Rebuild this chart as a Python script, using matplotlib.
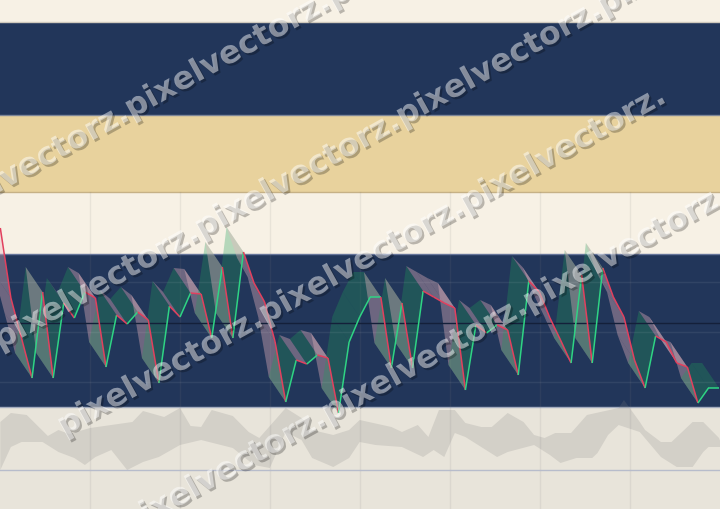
import numpy as np
import matplotlib.pyplot as plt
from matplotlib.collections import LineCollection, PolyCollection
import matplotlib.patheffects as pe

# price series (one value per session)
prices = [135.8, 121.8, 113.8, 105.8, 123.0, 105.8, 120.8, 117.8, 123.0, 121.8,
          108.0, 118.4, 116.6, 119.0, 117.4, 104.8, 120.2, 118.0, 122.8, 122.6,
          113.8, 128.0, 113.8, 131.0, 124.8, 121.0, 113.0, 101.0, 109.4, 108.6,
          110.4, 109.8, 98.8, 113.0, 118.0, 122.0, 122.0, 107.8, 120.8, 107.8,
          123.2, 122.0, 120.8, 119.8, 103.4, 116.4, 114.8, 116.4, 115.4, 106.4,
          125.2, 123.0, 117.8, 113.4, 108.8, 126.4, 108.8, 127.8, 122.0, 118.0,
          109.4, 103.8, 114.2, 113.0, 108.8, 108.0, 100.8, 103.8, 103.8]
ref_level = 116.8

# lower indicator band (upper and lower edges)
band_top_x = [0, 1, 2.5, 4.5, 5.5, 6.5, 8.5, 10.5, 12.5, 13.5,
              15.5, 17, 18, 19, 20, 22, 23.5, 24.5, 27, 28.5,
              29.5, 31.5, 33, 34, 37, 38, 39.5, 40.5, 41.5, 43,
              44, 45.5, 46.5, 48, 49.5, 50.5, 51.5, 52.5, 54, 55.5,
              58.5, 59, 60.5, 61, 62.5, 63.5, 65.5, 66.5, 68, 68.1]
band_top = [48, 57, 55, 34, 40, 36, 42, 45, 48, 59,
            53, 62, 44, 43, 60, 54, 38, 32, 62, 52,
            40, 35, 40, 50, 43, 38, 45, 33, 60, 60,
            47, 43, 43, 57, 48, 35, 32, 37, 37, 55,
            62, 70, 48, 40, 28, 28, 48, 48, 32, 29]
band_bot_x = [0, 1, 2, 4, 5.5, 7, 8, 9, 10.5, 12,
              13.5, 15, 17, 19, 22, 24, 25.5, 27, 28.5, 29.5,
              31.5, 33, 34, 35.5, 38, 40, 41, 42, 43, 44,
              47, 48, 50.5, 52, 53, 54.5, 56, 56.5, 57.5, 58.5,
              60.5, 62.5, 64, 65.5, 66.5, 67, 68.1]
band_bot = [0, 23, 28, 28, 18, 12, 5, 13, 20, 0,
            8, 13, 25, 30, 22, 5, 2, 38, 30, 12,
            3, 12, 28, 25, 23, 13, 20, 13, 37, 33,
            13, 18, 25, 15, 7, 12, 12, 17, 35, 45,
            38, 13, 3, 3, 18, 23, 23]

watermark = 'pixelvectorz.'

cream = '#f7f1e5'
navy = '#22365a'
tan = '#e8d29d'
beige = '#e8e4da'

fig = plt.figure(figsize=(7.2, 5.09), dpi=100)

# background stripes
bg = fig.add_axes([0, 0, 1, 1])
bg.set_xlim(0, 720)
bg.set_ylim(509, 0)
bg.axis('off')
for top, bottom, col in [(0, 22, cream), (22, 115, navy), (115, 192, tan),
                         (192, 254, cream), (254, 407, navy), (407, 509, beige)]:
    bg.axhspan(top, bottom, color=col, lw=0)
for y, col in [(22, '#cfc9bd'), (115, '#7d8698'), (192, '#c6b186'),
               (254, '#66759a'), (407, '#a3acbf')]:
    bg.axhline(y, color=col, lw=1)
for x in range(90, 720, 90):
    bg.plot([x, x], [192, 509], color='#808080', alpha=0.12, lw=1)

# price panel
ax = fig.add_axes([0, 0, 1, 1])
ax.patch.set_alpha(0)
ax.axis('off')
ax.set_xlim(-0.03, 68.09)
ax.set_ylim(79.6, 181.4)
for lvl in [105, 115, 125]:
    ax.plot([-1, 70], [lvl, lvl], color='white', alpha=0.07, lw=1)
ax.plot([-1, 70], [ref_level, ref_level], color='#14203a', lw=1)

p = np.array(prices)
x = np.arange(len(p))
up = p[1:] >= p[:-1]
dx, dy = -1.6, 5.0
faces = [[(x[i], p[i]), (x[i + 1], p[i + 1]), (x[i + 1] + dx, p[i + 1] + dy), (x[i] + dx, p[i] + dy)]
         for i in range(len(p) - 1)]
face_cols = [(0.12, 0.62, 0.35, 0.30) if u else (0.91, 0.71, 0.75, 0.38) for u in up]
ax.add_collection(PolyCollection(faces, facecolors=face_cols, edgecolors='none'))
segs = [[(x[i], p[i]), (x[i + 1], p[i + 1])] for i in range(len(p) - 1)]
line_cols = ['#2fd484' if u else '#e2405e' for u in up]
ax.add_collection(LineCollection(segs, colors=line_cols, lw=1.1))

# indicator panel
ax2 = fig.add_axes([0, 0, 1, 129 / 509])
ax2.patch.set_alpha(0)
ax2.axis('off')
ax2.set_xlim(-0.03, 68.09)
ax2.set_ylim(-39, 90)
ax2.fill(band_top_x + band_bot_x[::-1], band_top + band_bot[::-1], color='#808080', alpha=0.2, lw=0)
ax2.axhline(0, color='#b7bccb', lw=1)

# watermark tile
wm = fig.add_axes([0, 0, 1, 1])
wm.patch.set_alpha(0)
wm.axis('off')
wm.set_xlim(0, 720)
wm.set_ylim(509, 0)
ang = 29
per_x, per_y = 203, 203 * np.tan(np.radians(ang))
# (first word x, baseline y, repeats)
for x0, y0, n in [(133 - per_x, 118 + per_y, 4), (0, 350, 4), (64, 436, 3), (127, 535, 4)]:
    wm.text(x0, y0, watermark * n, rotation=ang, rotation_mode='anchor',
            ha='left', va='baseline', fontsize=22.8, fontweight='bold',
            color='white', alpha=0.47, clip_on=True,
            path_effects=[pe.withSimplePatchShadow(offset=(1.5, -1.5), shadow_rgbFace='black', alpha=0.25)])

fig.savefig('out.png', dpi=100)
